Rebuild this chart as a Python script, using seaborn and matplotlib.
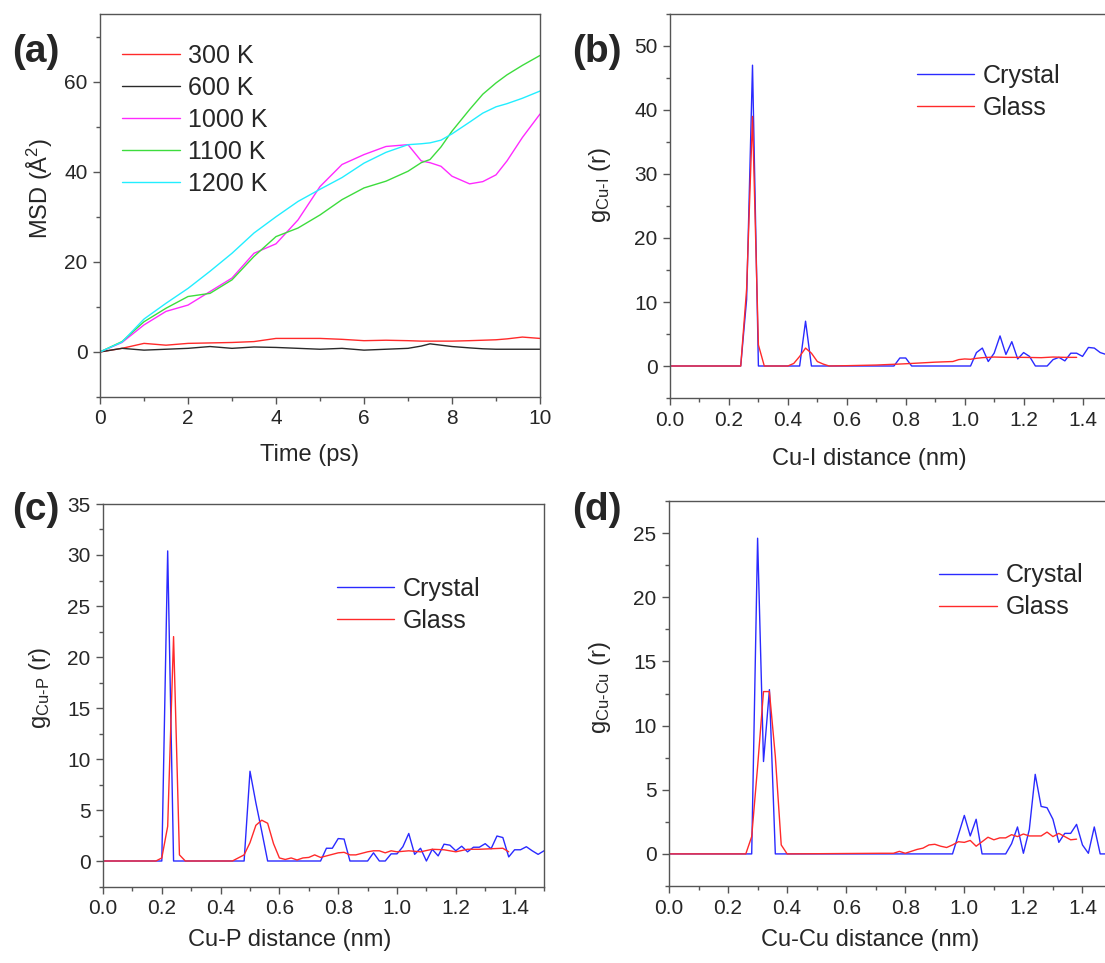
import matplotlib
matplotlib.use('Agg')
import matplotlib.pyplot as plt
import seaborn as sns
from matplotlib.ticker import MultipleLocator

# ---- panel (a): MSD vs time ----
t_a = [0, 0.5, 1.0, 1.5, 2.0, 2.5, 3.0, 3.5, 4.0, 4.5, 5.0, 5.5, 6.0, 6.5, 7.0, 7.3, 7.5, 7.75, 8.0, 8.4, 8.7, 9.0, 9.25, 9.6, 10.0]
msd_1200 = [0, 2.2, 7.3, 10.8, 14.1, 17.9, 21.9, 26.4, 30.0, 33.4, 36.1, 38.7, 41.9, 44.3, 46.0, 46.2, 46.4, 47.0, 48.4, 51.0, 53.0, 54.4, 55.1, 56.3, 57.9]
msd_1100 = [0, 2.3, 6.7, 9.7, 12.3, 13.0, 16.0, 21.2, 25.6, 27.5, 30.4, 33.8, 36.4, 37.9, 40.1, 42.0, 42.7, 45.5, 49.0, 53.8, 57.2, 59.7, 61.5, 63.6, 65.8]
msd_1000 = [0, 2.1, 6.0, 9.0, 10.4, 13.4, 16.4, 21.9, 24.0, 29.3, 36.7, 41.6, 43.8, 45.6, 46.0, 42.4, 42.0, 41.2, 39.0, 37.3, 37.8, 39.3, 42.4, 47.6, 52.8]
msd_300 = [0, 0.8, 1.9, 1.5, 1.9, 2.0, 2.1, 2.3, 3.0, 3.0, 3.0, 2.8, 2.5, 2.6, 2.5, 2.4, 2.4, 2.4, 2.4, 2.5, 2.6, 2.7, 2.9, 3.3, 3.0]
msd_600 = [0, 0.8, 0.4, 0.6, 0.8, 1.2, 0.8, 1.1, 1.0, 0.8, 0.6, 0.8, 0.4, 0.6, 0.8, 1.3, 1.8, 1.5, 1.2, 0.9, 0.7, 0.6, 0.6, 0.6, 0.6]

# ---- panel (b): Cu-I ----
r_b_cry = [0, 0.24, 0.26, 0.28, 0.30, 0.44, 0.46, 0.48, 0.76, 0.78, 0.80, 0.82, 1.02, 1.04, 1.06, 1.08, 1.10,
           1.12, 1.14, 1.16, 1.18, 1.20, 1.22, 1.24, 1.26, 1.28, 1.30, 1.32, 1.34, 1.36, 1.38, 1.40, 1.42,
           1.44, 1.46, 1.48, 1.50]
g_b_cry = [0, 0, 10.4, 47.0, 0, 0, 7.0, 0, 0, 1.25, 1.25, 0, 0, 2.1, 2.8, 0.7, 2.0,
           4.7, 1.8, 3.8, 1.1, 2.1, 1.5, 0, 0, 0, 1.0, 1.35, 0.8, 2.0, 2.0, 1.5, 2.9,
           2.8, 2.1, 1.8, 1.5]
r_b_gla = [0, 0.24, 0.26, 0.28, 0.30, 0.32, 0.40, 0.42, 0.44, 0.46, 0.48, 0.50, 0.52, 0.54, 0.60, 0.70,
           0.80, 0.90, 0.96, 0.98, 1.00, 1.02, 1.04, 1.06, 1.10, 1.14, 1.20, 1.26, 1.30, 1.34, 1.38]
g_b_gla = [0, 0, 12.0, 39.0, 3.3, 0, 0, 0.4, 1.5, 2.8, 2.0, 0.7, 0.3, 0, 0.05, 0.15,
           0.35, 0.6, 0.7, 1.0, 1.1, 1.05, 1.2, 1.3, 1.4, 1.35, 1.35, 1.3, 1.4, 1.35, 1.35]

# ---- panel (c): Cu-P ----
r_c_cry = [0, 0.20, 0.22, 0.24, 0.48, 0.50, 0.52, 0.54, 0.56, 0.74, 0.76, 0.78, 0.80, 0.82, 0.84,
           0.90, 0.92, 0.94, 0.96, 0.98, 1.00, 1.02, 1.04, 1.06, 1.08, 1.10, 1.12, 1.14, 1.16, 1.18,
           1.20, 1.22, 1.24, 1.26, 1.28, 1.30, 1.32, 1.34, 1.36, 1.38, 1.40, 1.42, 1.44, 1.46, 1.48, 1.50]
g_c_cry = [0, 0, 30.4, 0, 0, 8.8, 5.7, 2.9, 0, 0, 1.25, 1.25, 2.2, 2.15, 0,
           0, 0.8, 0, 0, 0.7, 0.7, 1.4, 2.7, 0.65, 1.25, 0, 1.15, 0.5, 1.65, 1.55,
           1.0, 1.45, 0.9, 1.35, 1.35, 1.7, 1.2, 2.45, 2.3, 0.4, 1.1, 1.1, 1.4, 1.0, 0.65, 1.0]
r_c_gla = [0, 0.18, 0.20, 0.22, 0.24, 0.26, 0.28, 0.44, 0.46, 0.48, 0.50, 0.52, 0.54, 0.56, 0.58,
           0.60, 0.62, 0.64, 0.66, 0.68, 0.70, 0.72, 0.74, 0.76, 0.78, 0.80, 0.82, 0.84, 0.86, 0.88,
           0.90, 0.92, 0.94, 0.96, 0.98, 1.00, 1.04, 1.08, 1.12, 1.16, 1.20, 1.24, 1.28, 1.32, 1.36, 1.38]
g_c_gla = [0, 0, 0.3, 3.4, 22.0, 0.6, 0, 0, 0.3, 0.6, 1.8, 3.5, 4.0, 3.7, 1.7,
           0.3, 0.15, 0.3, 0.1, 0.3, 0.35, 0.6, 0.35, 0.5, 0.65, 0.8, 0.85, 0.6, 0.6, 0.75,
           0.9, 1.0, 1.0, 0.8, 1.0, 0.9, 1.0, 0.9, 1.15, 1.1, 0.9, 1.15, 1.15, 1.2, 1.25, 0.9]

# ---- panel (d): Cu-Cu ----
r_d_cry = [0, 0.28, 0.30, 0.32, 0.34, 0.36, 0.96, 0.98, 1.00, 1.02, 1.04, 1.06, 1.14, 1.16, 1.18,
           1.20, 1.22, 1.24, 1.26, 1.28, 1.30, 1.32, 1.34, 1.36, 1.38, 1.40, 1.42, 1.44, 1.46, 1.50]
g_d_cry = [0, 0, 24.6, 7.2, 12.8, 0, 0, 1.5, 3.0, 1.4, 2.7, 0, 0, 0.8, 2.1,
           0.05, 1.9, 6.2, 3.7, 3.6, 2.7, 0.9, 1.6, 1.6, 2.3, 0.7, 0.05, 2.1, 0, 0]
r_d_gla = [0, 0.26, 0.28, 0.30, 0.32, 0.34, 0.36, 0.38, 0.40, 0.72, 0.76, 0.78, 0.80, 0.82, 0.84,
           0.86, 0.88, 0.90, 0.92, 0.94, 0.96, 0.98, 1.00, 1.02, 1.04, 1.06, 1.08, 1.10, 1.12, 1.14,
           1.16, 1.18, 1.20, 1.22, 1.24, 1.26, 1.28, 1.30, 1.32, 1.34, 1.36, 1.38]
g_d_gla = [0, 0, 1.35, 6.8, 12.65, 12.65, 7.6, 0.7, 0, 0.05, 0.05, 0.2, 0.05, 0.2, 0.35,
           0.45, 0.7, 0.75, 0.6, 0.5, 0.7, 0.95, 0.9, 1.05, 0.6, 0.95, 1.3, 1.1, 1.25, 1.25,
           1.5, 1.35, 1.55, 1.4, 1.4, 1.4, 1.7, 1.35, 1.6, 1.35, 1.1, 1.15]

msd_labels = ['300 K', '600 K', '1000 K', '1100 K', '1200 K']
msd_colors = ['#ff2a2a', '#2a2a2a', '#ff2aff', '#3ddc3d', '#22eeff']

sns.set_style('ticks')
plt.rcParams['font.family'] = ['Liberation Sans', 'DejaVu Sans']
plt.rcParams['mathtext.fontset'] = 'custom'
plt.rcParams['mathtext.rm'] = 'Liberation Sans'
plt.rcParams['mathtext.it'] = 'Liberation Sans:italic'

W, H = 1105, 963
fig = plt.figure(figsize=(W / 100, H / 100), dpi=100)


def px_axes(left, right, top, bottom):
    return fig.add_axes([left / W, 1 - bottom / H, (right - left) / W, (bottom - top) / H])


ax_a = px_axes(100, 540, 14, 397)
ax_b = px_axes(670, 1112, 14, 398)
ax_c = px_axes(103, 544, 504, 886.5)
ax_d = px_axes(669, 1112, 501, 886)

lw = 1.0
series_a = [msd_300, msd_600, msd_1000, msd_1100, msd_1200]
for vals, lab, col in zip(series_a, msd_labels, msd_colors):
    sns.lineplot(x=t_a, y=vals, color=col, label=lab, lw=lw, ax=ax_a)

for ax, rc, gc, rg, gg in [(ax_b, r_b_cry, g_b_cry, r_b_gla, g_b_gla),
                           (ax_c, r_c_cry, g_c_cry, r_c_gla, g_c_gla),
                           (ax_d, r_d_cry, g_d_cry, r_d_gla, g_d_gla)]:
    sns.lineplot(x=rc, y=gc, color='#2a2aff', label='Crystal', lw=lw, ax=ax)
    sns.lineplot(x=rg, y=gg, color='#ff2a2a', label='Glass', lw=lw, ax=ax)

# axis ranges / ticks
ax_a.set_xlim(0, 10)
ax_a.set_ylim(-10, 75)
ax_a.xaxis.set_major_locator(MultipleLocator(2))
ax_a.xaxis.set_minor_locator(MultipleLocator(1))
ax_a.yaxis.set_major_locator(MultipleLocator(20))
ax_a.yaxis.set_minor_locator(MultipleLocator(10))

ax_b.set_ylim(-5, 55)
ax_b.yaxis.set_major_locator(MultipleLocator(10))
ax_b.yaxis.set_minor_locator(MultipleLocator(5))
ax_c.set_ylim(-2.5, 35)
ax_d.set_ylim(-2.5, 27.5)
for ax in (ax_c, ax_d):
    ax.yaxis.set_major_locator(MultipleLocator(5))
    ax.yaxis.set_minor_locator(MultipleLocator(2.5))
for ax in (ax_b, ax_c, ax_d):
    ax.set_xlim(0, 1.5)
    ax.xaxis.set_major_locator(MultipleLocator(0.2))
    ax.xaxis.set_minor_locator(MultipleLocator(0.1))
    ax.xaxis.set_major_formatter(matplotlib.ticker.FormatStrFormatter('%.1f'))

for ax in (ax_a, ax_b, ax_c, ax_d):
    for s in ax.spines.values():
        s.set_color('#555555')
        s.set_linewidth(1.0)
    ax.tick_params(which='major', direction='out', length=5, width=1, color='#555555',
                   labelsize=15, pad=4, top=False, right=False)
    ax.tick_params(which='minor', direction='out', length=3, width=1, color='#555555',
                   top=False, right=False)

labels = {
    ax_a: ('Time (ps)', 'MSD (Å$^{\\mathregular{2}}$)', (0.477, -0.151), (-0.136, 0.546)),
    ax_b: ('Cu-I distance (nm)', 'g$_{\\mathregular{Cu\\text{-}I}}$ (r)', (0.451, -0.159), (-0.158, 0.555)),
    ax_c: ('Cu-P distance (nm)', 'g$_{\\mathregular{Cu\\text{-}P}}$ (r)', (0.424, -0.14), (-0.143, 0.52)),
    ax_d: ('Cu-Cu distance (nm)', 'g$_{\\mathregular{Cu\\text{-}Cu}}$ (r)', (0.454, -0.14), (-0.156, 0.514)),
}
for ax, (xl, yl, xc, yc) in labels.items():
    ax.set_xlabel(xl, fontsize=17, va='center')
    ax.set_ylabel(yl, fontsize=17, va='center')
    ax.xaxis.set_label_coords(*xc)
    ax.yaxis.set_label_coords(*yc)

legend_pos = {ax_a: (0.05, 0.7245), ax_b: (0.5588, 0.797), ax_c: (0.5306, 0.736), ax_d: (0.6095, 0.765)}
for ax, pos in legend_pos.items():
    ax.legend(loc='center left', bbox_to_anchor=pos, frameon=False, fontsize=18,
              handlelength=2.3, handletextpad=0.35, labelspacing=0.32,
              borderpad=0, borderaxespad=0)

for lab, x, y in [('(a)', 12, 52), ('(b)', 572, 52), ('(c)', 12, 510), ('(d)', 572, 510)]:
    fig.text(x / W, 1 - y / H, lab, fontsize=28, fontweight='bold', ha='left', va='center')

fig.savefig('out.png', dpi=100)
